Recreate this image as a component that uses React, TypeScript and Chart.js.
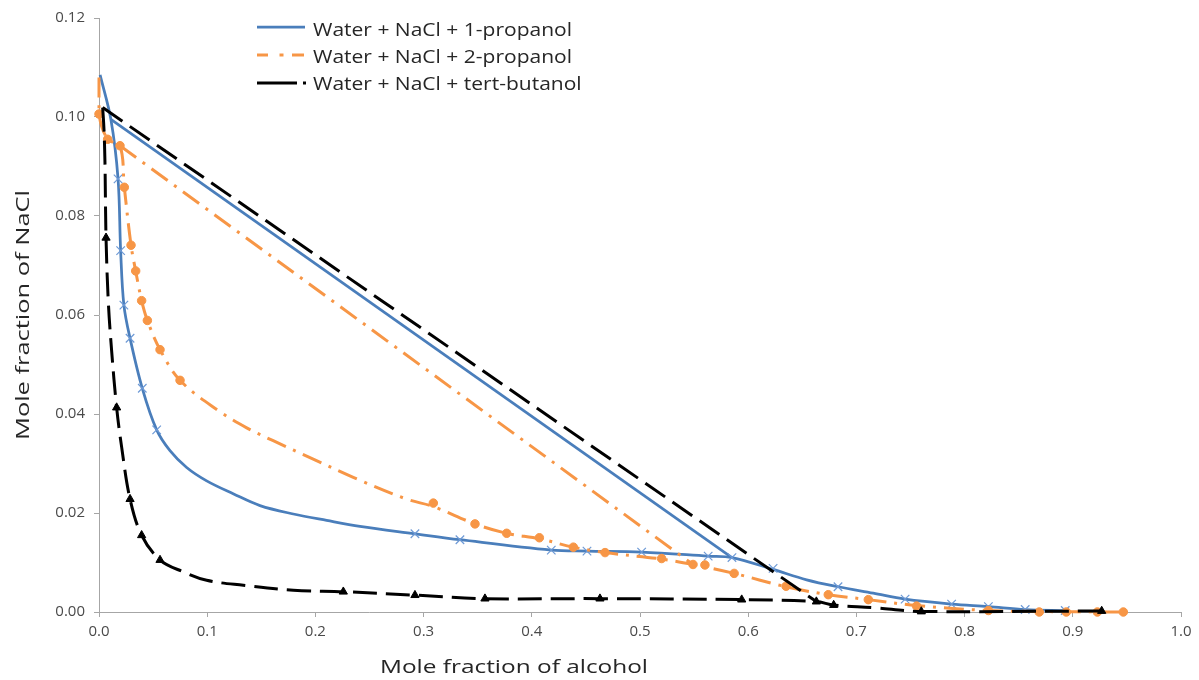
import React, { useEffect, useRef } from "react";
import { Chart, registerables } from "chart.js";

Chart.register(...registerables);

const FONT = "'Open Sans', 'Noto Sans', sans-serif";

// ---------- text ----------
const seriesNames = [
  "Water + NaCl + 1-propanol",
  "Water + NaCl + 2-propanol",
  "Water + NaCl + tert-butanol",
];
const xTitle = "Mole fraction of alcohol";
const yTitle = "Mole fraction of NaCl";
const xTicks = [0, 0.1, 0.2, 0.3, 0.4, 0.5, 0.6, 0.7, 0.8, 0.9, 1.0];
const yTicks = [0, 0.02, 0.04, 0.06, 0.08, 0.1, 0.12];

// ---------- Water + NaCl + 1-propanol ----------
const prop1CurveX = [0.001, 0.011, 0.0176, 0.02, 0.023, 0.0287, 0.04, 0.0533, 0.0656, 0.081, 0.0995, 0.124, 0.1488, 0.1796, 0.2104, 0.2412, 0.292, 0.3336, 0.418, 0.451, 0.5015, 0.563, 0.585, 0.623, 0.654, 0.683, 0.7156, 0.745, 0.788, 0.822, 0.856, 0.893];
const prop1CurveY = [0.1085, 0.0995, 0.0875, 0.073, 0.062, 0.0553, 0.0452, 0.0368, 0.0326, 0.0292, 0.0265, 0.0239, 0.0215, 0.0198, 0.0185, 0.0173, 0.0158, 0.0146, 0.0125, 0.0123, 0.0121, 0.0113, 0.011, 0.0086, 0.0065, 0.0051, 0.0038, 0.0026, 0.0016, 0.0011, 0.0005, 0.0003];
const prop1PointsX = [0.0176, 0.02, 0.023, 0.0287, 0.04, 0.0533, 0.292, 0.3336, 0.418, 0.451, 0.5015, 0.563, 0.585, 0.623, 0.683, 0.745, 0.788, 0.822, 0.856, 0.893];
const prop1PointsY = [0.0875, 0.073, 0.062, 0.0553, 0.0452, 0.0368, 0.0158, 0.0146, 0.0125, 0.0123, 0.0121, 0.0113, 0.011, 0.0088, 0.0051, 0.0026, 0.0016, 0.0011, 0.0005, 0.0003];
const prop1TieX = [0.011, 0.585];
const prop1TieY = [0.0995, 0.011];

// ---------- Water + NaCl + 2-propanol ----------
const prop2CurveX = [0, 0, 0.008, 0.0194, 0.0234, 0.0296, 0.0339, 0.0394, 0.0447, 0.0564, 0.0749, 0.1088, 0.1365, 0.161, 0.198, 0.235, 0.2844, 0.309, 0.3475, 0.3768, 0.407, 0.4384, 0.4677, 0.52, 0.549, 0.587, 0.635, 0.674, 0.711, 0.7556, 0.822, 0.869, 0.9467];
const prop2CurveY = [0.108, 0.1006, 0.0955, 0.0942, 0.0858, 0.0741, 0.0689, 0.0629, 0.0589, 0.053, 0.0468, 0.0409, 0.0372, 0.0346, 0.0309, 0.0272, 0.0228, 0.0213, 0.0178, 0.0159, 0.0148, 0.0131, 0.012, 0.0107, 0.0096, 0.0078, 0.0051, 0.0035, 0.0025, 0.0013, 0.0003, 0.0001, 0.0];
const prop2PointsX = [0, 0.008, 0.0194, 0.0234, 0.0296, 0.0339, 0.0394, 0.0447, 0.0564, 0.0749, 0.309, 0.3475, 0.3768, 0.407, 0.4384, 0.4677, 0.52, 0.549, 0.56, 0.587, 0.635, 0.674, 0.711, 0.7556, 0.822, 0.869, 0.894, 0.9227, 0.9467];
const prop2PointsY = [0.1006, 0.0955, 0.0942, 0.0858, 0.0741, 0.0689, 0.0629, 0.0589, 0.053, 0.0468, 0.022, 0.0178, 0.0159, 0.015, 0.0131, 0.012, 0.0108, 0.0096, 0.0095, 0.0078, 0.0052, 0.0035, 0.0025, 0.0012, 0.0003, 0, 0, 0, 0];
const prop2TieX = [0.0194, 0.549];
const prop2TieY = [0.0942, 0.0096];

// ---------- Water + NaCl + tert-butanol ----------
const tbuCurveX = [0.0034, 0.0046, 0.0055, 0.0065, 0.0086, 0.0117, 0.0163, 0.021, 0.0287, 0.0394, 0.0564, 0.078, 0.0995, 0.1334, 0.1796, 0.2258, 0.292, 0.3567, 0.463, 0.594, 0.663, 0.679, 0.7156, 0.76, 0.9267];
const tbuCurveY = [0.1019, 0.0975, 0.0909, 0.0756, 0.0627, 0.0527, 0.0413, 0.0332, 0.0228, 0.0155, 0.0105, 0.0081, 0.0064, 0.0054, 0.0044, 0.0041, 0.0034, 0.0027, 0.0027, 0.0025, 0.0021, 0.0014, 0.0009, 0.0001, 0.0002];
const tbuPointsX = [0.0065, 0.0163, 0.0287, 0.0394, 0.0564, 0.2258, 0.292, 0.3567, 0.463, 0.594, 0.663, 0.679, 0.76, 0.9267];
const tbuPointsY = [0.0756, 0.0413, 0.0228, 0.0155, 0.0105, 0.0041, 0.0034, 0.0027, 0.0027, 0.0025, 0.0021, 0.0014, 0.0001, 0.0002];
const tbuTieX = [0.0034, 0.663];
const tbuTieY = [0.1019, 0.0021];

// ---------- styles ----------
const BLUE = "#4A7EBB";
const BLUE_MARK = "#6E9AD6";
const ORANGE = "#F79646";
const BLACK = "#000000";
const AXIS = "#A6A6A6";
const TICK_TEXT = "#4A4A4A";
const TITLE_TEXT = "#262626";

const zip = (xs: number[], ys: number[]) => xs.map((x, i) => ({ x, y: ys[i] }));

const lineDs = (data: any[], color: string, width: number, dash: number[], order: number, tension = 0.35) => ({
  data,
  showLine: true,
  borderColor: color,
  backgroundColor: color,
  borderWidth: width,
  borderDash: dash,
  pointRadius: 0,
  tension,
  clip: false,
  order,
});

const pointDs = (data: any[], style: string, radius: number, border: string, bg: string, bw: number, order: number) => ({
  data,
  showLine: false,
  pointStyle: style,
  pointRadius: radius,
  pointBorderColor: border,
  pointBackgroundColor: bg,
  pointBorderWidth: bw,
  borderColor: border,
  backgroundColor: bg,
  clip: false,
  order,
});

const overlayPlugin = {
  id: "overlay",
  afterDraw(chart: any) {
    const ctx: CanvasRenderingContext2D = chart.ctx;
    ctx.save();
    ctx.lineCap = "butt";
    const rows = [27, 55, 83];
    // legend samples
    ctx.strokeStyle = BLUE;
    ctx.lineWidth = 2.75;
    ctx.beginPath();
    ctx.moveTo(257, rows[0]);
    ctx.lineTo(305, rows[0]);
    ctx.stroke();

    ctx.strokeStyle = ORANGE;
    ctx.lineWidth = 3;
    [[257, 268], [279.5, 283.5], [292, 304]].forEach(([a, b]) => {
      ctx.beginPath();
      ctx.moveTo(a, rows[1]);
      ctx.lineTo(b, rows[1]);
      ctx.stroke();
    });

    ctx.strokeStyle = BLACK;
    ctx.lineWidth = 3;
    [[257, 297], [303, 306]].forEach(([a, b]) => {
      ctx.beginPath();
      ctx.moveTo(a, rows[2]);
      ctx.lineTo(b, rows[2]);
      ctx.stroke();
    });

    // legend text
    ctx.fillStyle = TITLE_TEXT;
    ctx.font = `19px ${FONT}`;
    ctx.textAlign = "left";
    ctx.textBaseline = "alphabetic";
    const sx = 259 / ctx.measureText(seriesNames[0]).width;
    const baselines = [35.5, 62.5, 90];
    seriesNames.forEach((name, i) => {
      ctx.save();
      ctx.translate(313, baselines[i]);
      ctx.scale(sx, 1);
      ctx.fillText(name, 0, 0);
      ctx.restore();
    });

    // x title
    ctx.font = `19px ${FONT}`;
    ctx.textAlign = "center";
    const sxT = 268 / ctx.measureText(xTitle).width;
    ctx.save();
    ctx.translate(514, 673);
    ctx.scale(sxT, 1);
    ctx.fillText(xTitle, 0, 0);
    ctx.restore();

    // y title
    const syT = 250 / ctx.measureText(yTitle).width;
    ctx.save();
    ctx.translate(29, 315);
    ctx.rotate(-Math.PI / 2);
    ctx.scale(syT, 1);
    ctx.fillText(yTitle, 0, 0);
    ctx.restore();

    ctx.restore();
  },
};

export default function App() {
  const ref = useRef<HTMLCanvasElement | null>(null);

  useEffect(() => {
    if (!ref.current) return;
    const datasets: any[] = [
      lineDs(zip(prop1CurveX, prop1CurveY), BLUE, 2.75, [], 6),
      lineDs(zip(prop1TieX, prop1TieY), BLUE, 2.75, [], 6, 0),
      pointDs(zip(prop1PointsX, prop1PointsY), "crossRot", 6, BLUE_MARK, BLUE_MARK, 1.2, 5),
      lineDs(zip(prop2CurveX, prop2CurveY), ORANGE, 3, [20, 8, 3, 8], 4),
      lineDs(zip(prop2TieX, prop2TieY), ORANGE, 3, [20, 8, 3, 8], 4, 0),
      pointDs(zip(prop2PointsX, prop2PointsY), "circle", 4.25, ORANGE, ORANGE, 1, 3),
      lineDs(zip(tbuCurveX, tbuCurveY), BLACK, 3, [24, 9], 2),
      lineDs(zip(tbuTieX, tbuTieY), BLACK, 3, [24, 9], 2, 0),
      pointDs(zip(tbuPointsX, tbuPointsY), "triangle", 4.75, BLACK, BLACK, 1, 1),
    ];

    const chart = new Chart(ref.current, {
      type: "scatter",
      data: { datasets },
      options: {
        animation: false,
        responsive: true,
        maintainAspectRatio: false,
        devicePixelRatio: 1,
        events: [],
        layout: { padding: { left: 0, right: 18, top: 15, bottom: 0 } },
        plugins: {
          legend: { display: false },
          tooltip: { enabled: false },
          title: { display: false },
        },
        scales: {
          x: {
            type: "linear",
            min: 0,
            max: 1,
            afterBuildTicks: (s: any) => {
              s.ticks = xTicks.map((v) => ({ value: v }));
            },
            afterFit: (s: any) => {
              s.height = 68;
            },
            ticks: {
              callback: (v: any) => Number(v).toFixed(1),
              color: TICK_TEXT,
              font: { family: FONT, size: 15 },
              padding: 6,
              maxRotation: 0,
              autoSkip: false,
            },
            grid: { drawOnChartArea: false, drawTicks: true, tickLength: 5, color: AXIS },
            border: { display: true, color: AXIS, width: 1 },
          },
          y: {
            type: "linear",
            min: 0,
            max: 0.12,
            afterBuildTicks: (s: any) => {
              s.ticks = yTicks.map((v) => ({ value: v }));
            },
            afterFit: (s: any) => {
              s.width = 99;
            },
            ticks: {
              callback: (v: any) => Number(v).toFixed(2),
              color: TICK_TEXT,
              font: { family: FONT, size: 15 },
              padding: 9,
              autoSkip: false,
            },
            grid: { drawOnChartArea: false, drawTicks: true, tickLength: 5, color: AXIS },
            border: { display: true, color: AXIS, width: 1 },
          },
        },
      },
      plugins: [overlayPlugin],
    } as any);

    return () => chart.destroy();
  }, []);

  return (
    <div style={{ position: "absolute", left: 0, top: 0, width: 1199, height: 680, background: "#fff" }}>
      <canvas ref={ref} />
    </div>
  );
}
